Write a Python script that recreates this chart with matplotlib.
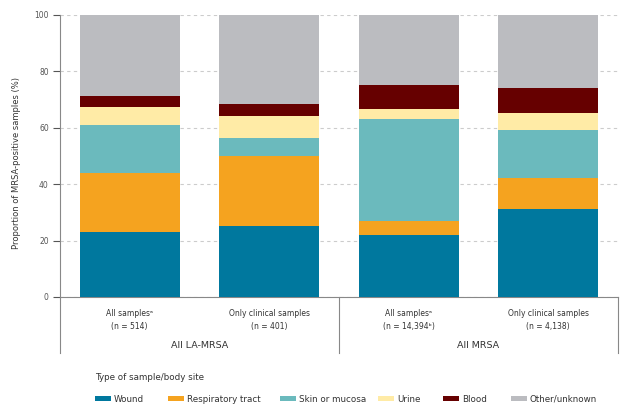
import matplotlib
matplotlib.use("Agg")
import matplotlib.pyplot as plt
from matplotlib.patches import Rectangle

plt.rcParams["font.family"] = ["Liberation Sans Narrow", "DejaVu Sans"]

# Data (segment sizes in %)
bar_labels = [
    "All samples\u1d43\n(n = 514)",
    "Only clinical samples\n(n = 401)",
    "All samples\u1d43\n(n = 14,394\u1d47)",
    "Only clinical samples\n(n = 4,138)",
]
group_labels = ["All LA-MRSA", "All MRSA"]
categories = ["Wound", "Respiratory tract", "Skin or mucosa", "Urine", "Blood", "Other/unknown"]
wound = [23.1, 25.3, 21.9, 31.3]
respiratory = [21.0, 24.8, 4.9, 10.9]
skin = [17.0, 6.4, 36.3, 17.0]
urine = [6.4, 7.6, 3.4, 5.9]
blood = [3.8, 4.3, 8.5, 9.1]
other = [28.7, 31.6, 25.0, 25.8]
colors = ["#00789e", "#f5a31f", "#6bbabd", "#ffeba6", "#660000", "#bbbcc0"]

series = [wound, respiratory, skin, urine, blood, other]
text_col = "#333333"

fig = plt.figure(figsize=(6.28, 4.13), dpi=100)
ax = fig.add_axes([0.0955, 0.281, 0.8885, 0.6827])

x = range(len(bar_labels))
bottom = [0.0] * len(bar_labels)
for vals, col, name in zip(series, colors, categories):
    ax.bar(x, vals, width=0.716, bottom=bottom, color=col, label=name, zorder=3)
    bottom = [b + v for b, v in zip(bottom, vals)]

ax.set_xlim(-0.5, 3.5)
ax.set_ylim(0, 100)
ax.set_yticks([0, 20, 40, 60, 80, 100])
ax.tick_params(axis="y", labelsize=5.5, colors="#555555", length=5, width=0.8, pad=3)
ax.yaxis.grid(True, linestyle=(0, (3, 3)), color="#cccccc", linewidth=0.8, zorder=0)

for side in ["top", "right"]:
    ax.spines[side].set_visible(False)
ax.spines["left"].set_color("#888888")
ax.spines["bottom"].set_color("#888888")

ax.set_xticks(list(x))
ax.set_xticklabels(bar_labels, fontsize=5.5, color=text_col, linespacing=1.5)
ax.tick_params(axis="x", length=0, pad=9)

ax.set_ylabel("Proportion of MRSA-positive samples (%)", fontsize=6.0, color=text_col)
ax.yaxis.set_label_coords(-0.07, 0.475)

# table-like separators below the axis
line_bottom = -(353 - 297) / 282
for xa in [0.0, 0.5, 1.0]:
    ax.plot([xa, xa], [0, line_bottom], transform=ax.transAxes, color="#888888",
            linewidth=0.8, clip_on=False)
for i, g in enumerate(group_labels):
    ax.text(0.25 + 0.5 * i, -(346 - 297) / 282, g, transform=ax.transAxes,
            ha="center", va="center", fontsize=6.8, color=text_col)

# legend: title plus one swatch/label per category, spaced as in the original
fig.text(95 / 628, 1 - 377 / 413, "Type of sample/body site", fontsize=6.3,
         color=text_col, ha="left", va="center")
legend_x = [95, 168, 280, 378, 443, 511]
ly = 1 - 398 / 413
sw, sh = 16 / 628, 5 / 413
for c, name, lx in zip(colors, categories, legend_x):
    fig.add_artist(Rectangle((lx / 628, ly - sh / 2), sw, sh, facecolor=c, edgecolor="none",
                             transform=fig.transFigure))
    fig.text(lx / 628 + sw + 3 / 628, ly, name, fontsize=6.3, color=text_col,
             ha="left", va="center_baseline")

fig.savefig("out.png", dpi=100)
